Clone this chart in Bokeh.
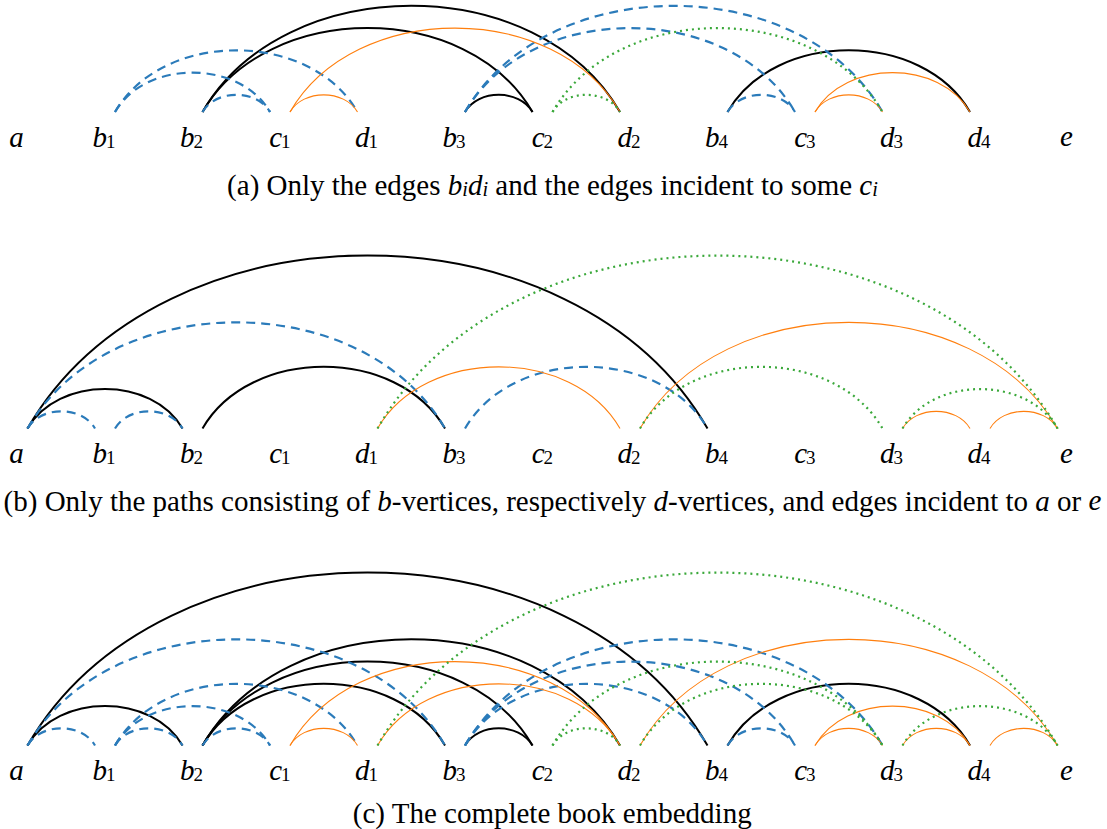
import math
from bokeh.plotting import figure
from bokeh.models import ColumnDataSource, Range1d
from bokeh.embed import file_html
from bokeh.resources import INLINE
from bokeh.core.properties import value

# ---------------- data ----------------
vertex_names = ["a", "b1", "b2", "c1", "d1", "b3", "c2", "d2", "b4", "c3", "d3", "d4", "e"]
vertex_letters = ["a", "b", "b", "c", "d", "b", "c", "d", "b", "c", "d", "d", "e"]
vertex_subs = ["", "1", "2", "1", "1", "3", "2", "2", "4", "3", "3", "4", ""]

# panel (a): edges b_i d_i and edges incident to some c_i
panel_a_from = ["b1", "b1", "b2", "b2", "b2", "c1", "c1", "b3", "b3", "b3", "c2", "c2", "b4", "b4", "c3", "c3"]
panel_a_to = ["d1", "c1", "c1", "d2", "c2", "d1", "d2", "c2", "c3", "d3", "d2", "d3", "c3", "d4", "d3", "d4"]
panel_a_page = ["blue", "blue", "blue", "black", "black", "orange", "orange", "black", "blue", "blue",
                "green", "green", "blue", "black", "orange", "orange"]

# panel (b): b-paths, d-paths, and edges incident to a or e
panel_b_from = ["a", "b1", "a", "a", "a", "b2", "b3", "d1", "d1", "d2", "d2", "d3", "d3", "d4"]
panel_b_to = ["b1", "b2", "b2", "b3", "b4", "b3", "b4", "d2", "e", "d3", "e", "d4", "e", "e"]
panel_b_page = ["blue", "blue", "black", "blue", "black", "black", "blue", "orange", "green", "green",
                "orange", "orange", "green", "orange"]

# panel (c): the complete book embedding = union
panel_c_from = panel_a_from + panel_b_from
panel_c_to = panel_a_to + panel_b_to
panel_c_page = panel_a_page + panel_b_page

# caption pieces: (text, italic?, is_subscript?)
caption_a = [("(a) Only the edges ", False, False), ("b", True, False), ("i", True, True),
             ("d", True, False), ("i", True, True),
             (" and the edges incident to some ", False, False), ("c", True, False), ("i", True, True)]
caption_b = [("(b) Only the paths consisting of ", False, False), ("b", True, False),
             ("-vertices, respectively ", False, False), ("d", True, False),
             ("-vertices, and edges incident to ", False, False), ("a", True, False),
             (" or ", False, False), ("e", True, False)]
caption_c = [("(c) The complete book embedding", False, False)]

# ---------------- layout / style ----------------
W, H = 1107, 829
X0, DX = 16.0, 87.5
ARC_Y = [111.5, 428.0, 745.0]
LABEL_DY = 24.5
CAP_Y = [184.0, 500.0, 812.0]
CAP_CX = 552.0
START_OFF, END_OFF = 11.0, -9.0
ANG, LOOSE = math.radians(60), 0.3915

STYLES = {
    "black": dict(line_color="#000000", line_width=2.0, line_dash="solid"),
    "blue": dict(line_color="#2b7bba", line_width=2.2, line_dash="9 6"),
    "orange": dict(line_color="#ff7f0e", line_width=1.1, line_dash="solid"),
    "green": dict(line_color="#3aa83a", line_width=2.2, line_dash="2 4", line_cap="butt"),
}
FONT = "Liberation Serif"
LABEL_SIZE = 29
SUB_SIZE = 19
CAP_SIZE = 29

ROMAN = {" ": 250, "(": 333, ")": 333, "-": 333, ",": 250, ".": 250,
         "a": 444, "b": 500, "c": 444, "d": 500, "e": 444, "f": 333, "g": 500, "h": 500,
         "i": 278, "j": 278, "k": 500, "l": 278, "m": 778, "n": 500, "o": 500, "p": 500,
         "q": 500, "r": 333, "s": 389, "t": 278, "u": 500, "v": 500, "w": 722, "x": 500,
         "y": 500, "z": 444, "O": 722, "T": 611}
ITALIC = {"a": 500, "b": 500, "c": 444, "d": 500, "e": 444, "i": 278}

xpos = {n: X0 + DX * i for i, n in enumerate(vertex_names)}

p = figure(width=W, height=H, output_backend="svg", toolbar_location=None,
           x_range=Range1d(0, W), y_range=Range1d(H, 0),
           x_axis_type=None, y_axis_type=None, min_border=0,
           min_border_left=0, min_border_right=0, min_border_top=0, min_border_bottom=0)
p.outline_line_color = None
p.grid.visible = False
p.background_fill_color = "white"
p.border_fill_color = "white"


def draw_edges(froms, tos, kinds, y):
    for kind, st in STYLES.items():
        d = dict(x0=[], y0=[], x1=[], y1=[], cx0=[], cy0=[], cx1=[], cy1=[])
        for u, v, k in zip(froms, tos, kinds):
            if k != kind:
                continue
            xa, xb = sorted([xpos[u], xpos[v]])
            s = xa + START_OFF
            t = xb + END_OFF
            L = t - s
            r = LOOSE * L
            d["x0"].append(s); d["y0"].append(y)
            d["x1"].append(t); d["y1"].append(y)
            d["cx0"].append(s + r * math.cos(ANG)); d["cy0"].append(y - r * math.sin(ANG))
            d["cx1"].append(t - r * math.cos(ANG)); d["cy1"].append(y - r * math.sin(ANG))
        if d["x0"]:
            p.bezier(x0="x0", y0="y0", x1="x1", y1="y1", cx0="cx0", cy0="cy0",
                     cx1="cx1", cy1="cy1", source=ColumnDataSource(d), **st)


def draw_labels(y):
    lx, ly, lt = [], [], []
    cx, cy, ct = [], [], []
    sx, sy, st = [], [], []
    for n, let, sub in zip(vertex_names, vertex_letters, vertex_subs):
        if sub:
            lx.append(xpos[n] + 3); ly.append(y); lt.append(let)
            sx.append(xpos[n] + 2); sy.append(y + 4.5); st.append(sub)
        else:
            cx.append(xpos[n]); cy.append(y); ct.append(let)
    common = dict(text_font=value(FONT), text_baseline="alphabetic", text_color="black")
    p.text(x=lx, y=ly, text=lt, text_align="right", text_font_style="italic",
           text_font_size=value(f"{LABEL_SIZE}px"), **common)
    p.text(x=cx, y=cy, text=ct, text_align="center", text_font_style="italic",
           text_font_size=value(f"{LABEL_SIZE}px"), **common)
    p.text(x=sx, y=sy, text=st, text_align="left", text_font_style="normal",
           text_font_size=value(f"{SUB_SIZE}px"), **common)


def piece_width(txt, italic, sub):
    size = CAP_SIZE * (0.7 if sub else 1.0)
    table = ITALIC if italic else ROMAN
    return sum(table.get(ch, ROMAN.get(ch, 500)) for ch in txt) / 1000.0 * size


def draw_caption(pieces, y):
    total = sum(piece_width(t, i, s) for t, i, s in pieces)
    x = CAP_CX - total / 2
    for txt, italic, sub in pieces:
        lead = len(txt) - len(txt.lstrip(" "))
        stripped = txt.strip(" ")
        xs = x + piece_width(" " * lead, False, sub)
        size = CAP_SIZE * (0.7 if sub else 1.0)
        p.text(x=[xs], y=[y + (0.15 * CAP_SIZE if sub else 0)], text=[stripped],
               text_align="left", text_baseline="alphabetic",
               text_font=value(FONT), text_font_style="italic" if italic else "normal",
               text_font_size=value(f"{size:.1f}px"), text_color="black")
        x += piece_width(txt, italic, sub)


panels = [(panel_a_from, panel_a_to, panel_a_page, caption_a),
          (panel_b_from, panel_b_to, panel_b_page, caption_b),
          (panel_c_from, panel_c_to, panel_c_page, caption_c)]
for i, (f, t, k, cap) in enumerate(panels):
    draw_edges(f, t, k, ARC_Y[i])
    draw_labels(ARC_Y[i] + LABEL_DY)
    draw_caption(cap, CAP_Y[i])

open("out.html", "w").write(file_html(p, INLINE))
